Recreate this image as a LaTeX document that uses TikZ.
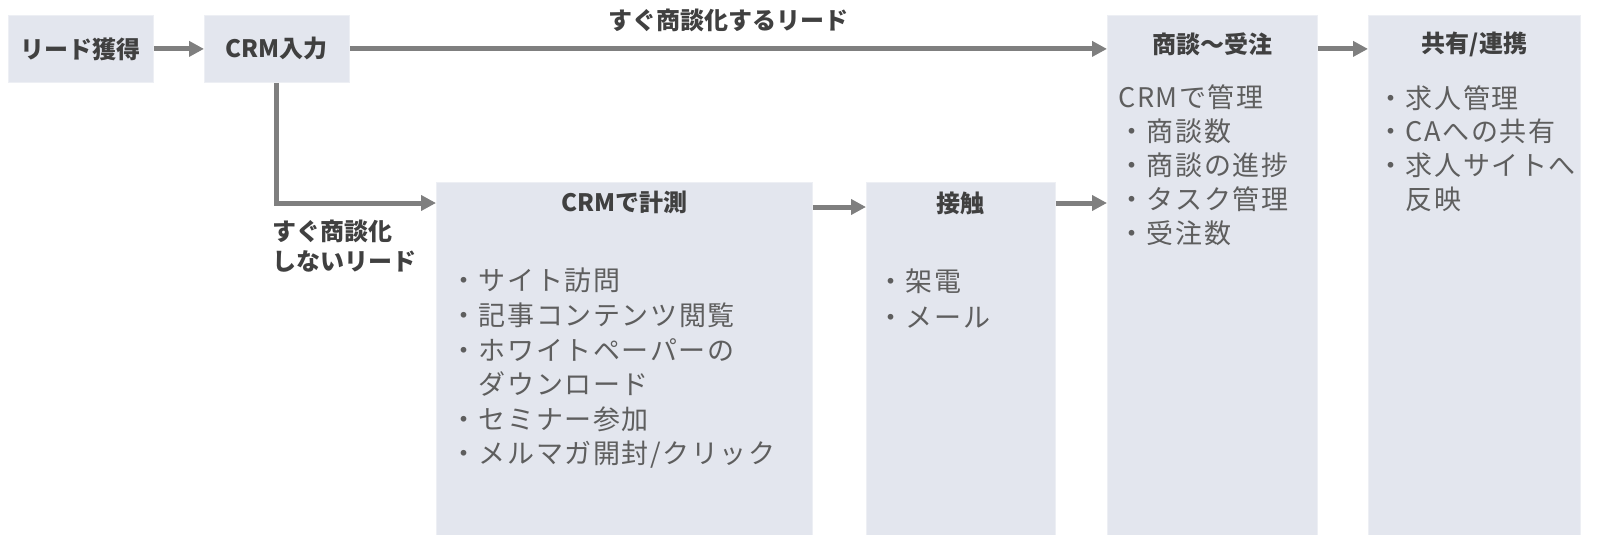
\documentclass[tikz,border=0pt]{standalone}
\usepackage{fontspec}
\setmainfont{Noto Sans CJK JP}
\newfontfamily\itemfont{Noto Sans CJK JP}[LetterSpace=6]
\usetikzlibrary{arrows.meta,positioning}
\definecolor{boxfill}{HTML}{E3E6EE}
\definecolor{boxedge}{HTML}{EDEFF4}
\definecolor{arrgray}{HTML}{7F7F7F}
\definecolor{headtxt}{HTML}{404040}
\definecolor{itemtxt}{HTML}{5E5E5E}

\begin{document}
\begin{tikzpicture}[
  x=1pt, y=-1pt,
  box/.style={draw=boxedge, fill=boxfill, line width=0.8pt, inner sep=0pt, anchor=north west},
  head/.style={font=\fontsize{24}{30}\selectfont\bfseries, text=headtxt, inner sep=0pt},
  items/.style={font=\itemfont\fontsize{27}{34.6}\selectfont, text=itemtxt, align=left,
                inner sep=0pt, anchor=north west},
  arr/.style={-{Triangle[length=15pt,width=15pt]}, line width=5pt, draw=arrgray}
]
\useasboundingbox (0,0) rectangle (1600,535);

% top row
\node[box, head, minimum width=145pt, minimum height=67pt] (lead) at (8,15) {リード獲得};
\node[box, head, minimum width=145pt, minimum height=67pt] (crm) at (204,15) {CRM入力};

% tall columns (run past the bottom edge)
\node[box, minimum width=376pt, minimum height=365pt] (meas) at (436,182) {};
\node[box, minimum width=189pt, minimum height=365pt] (touch) at (866,182) {};
\node[box, minimum width=210pt, minimum height=532pt] (deal) at (1107,15) {};
\node[box, minimum width=212pt, minimum height=532pt] (share) at (1368,15) {};

\node[head] (meastitle) at ([yshift=-20pt]meas.north) {CRMで計測};
\node[head] (touchtitle) at ([yshift=-21pt]touch.north) {接触};
\node[head] (dealtitle) at ([yshift=-29pt]deal.north) {商談～受注};
\node[head] (sharetitle) at ([yshift=-29pt]share.north) {共有/連携};

\node[items] (measlist) at (450,268)
  {・サイト訪問\\・記事コンテンツ閲覧\\・ホワイトペーパーの\\　ダウンロード\\・セミナー参加\\・メルマガ開封/クリック};
\node[items, font=\itemfont\fontsize{27}{36}\selectfont] (touchlist) at (877,269) {・架電\\・メール};
\node[items, font=\itemfont\fontsize{27}{34}\selectfont] (deallist) at (1118,84)
  {CRMで管理\\・商談数\\・商談の進捗\\・タスク管理\\・受注数};
\node[items, font=\itemfont\fontsize{27}{33.7}\selectfont] (sharelist) at (1377,85)
  {・求人管理\\・CAへの共有\\・求人サイトへ\\　反映};

\node[head, align=left, anchor=north west] (slowlbl) at (272,220) {すぐ商談化\\しないリード};

\draw[arr] (lead) -- (crm);
\draw[arr] (crm.east) -- (crm.east -| deal.west)
  node[midway, head, yshift=28pt] (fastlbl) {すぐ商談化するリード};
\draw[arr] (crm.south) |- ([yshift=-21pt]meas.north west);
\draw[arr] ([yshift=-25pt]meas.north east) -- ([yshift=-25pt]touch.north west);
\draw[arr] ([yshift=-21pt]touch.north east) coordinate (t1) -- (t1 -| deal.west);
\draw[arr] (crm.east -| deal.east) -- (crm.east -| share.west);
\end{tikzpicture}
\end{document}
